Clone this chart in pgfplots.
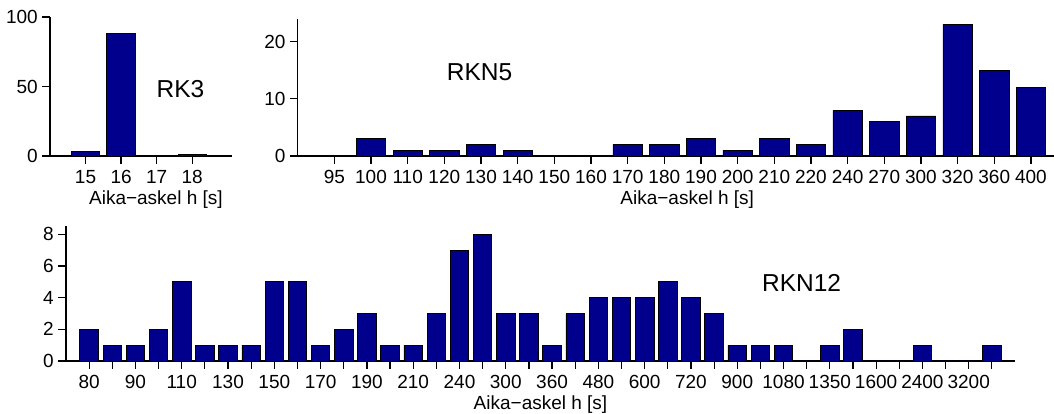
\documentclass[border=0pt]{standalone}
\usepackage{fontspec}
\setmainfont{Liberation Sans}
\usepackage{pgfplots}
\pgfplotsset{compat=1.18}
\definecolor{barblue}{RGB}{0,0,140}
\pgfplotsset{
  histo/.style={
    scale only axis,
    axis lines=left,
    axis line style={-, line width=1.2pt, black},
    tick align=outside,
    major tick length=8pt,
    tick style={line width=1.2pt, black},
    ymin=0,
    xtick=data,
    ybar,
    bar width=0.8,
    /pgf/number format/assume math mode=true,
    ticklabel style={font=\fontsize{19}{21}\selectfont, inner sep=0pt},
    yticklabel style={xshift=-4pt},
    xticklabel style={yshift=-6pt},
    label style={font=\fontsize{19}{21}\selectfont, inner sep=0pt},
    clip=false,
  },
  barstyle/.style={fill=barblue, draw=black, line width=0.8pt},
}
\begin{document}
\begin{tikzpicture}
\path[use as bounding box] (0,0) rectangle (1054pt,414pt);
% RK3
\begin{axis}[histo,
  at={(50pt,258pt)}, anchor=south west,
  width=182pt, height=139pt,
  xmin=-1, xmax=4.12, ymax=100,
  ytick={0,50,100},
  xticklabels={15,16,17,18},
  xlabel={Aika−askel h [s]},
  xlabel style={at={(axis description cs:0.582,0)}, anchor=north, yshift=-35pt},
]
\addplot[barstyle] coordinates {(0,3) (1,88) (2,0) (3,1)};
\node[font=\fontsize{24.5}{28}\selectfont] at (axis cs:2.67,47.8) {RK3};
\end{axis}
% RKN5
\begin{axis}[histo,
  at={(297.7pt,258pt)}, anchor=south west,
  width=756.3pt, height=137.2pt,
  xmin=-1, xmax=19.63, ymax=24,
  ytick={0,10,20},
  xticklabels={95,100,110,120,130,140,150,160,170,180,190,200,210,220,240,270,300,320,360,400},
  xlabel={Aika−askel h [s]},
  xlabel style={at={(axis description cs:0.515,0)}, anchor=north, yshift=-35pt},
]
\addplot[barstyle] coordinates {(0,0) (1,3) (2,1) (3,1) (4,2) (5,1) (6,0) (7,0) (8,2) (9,2) (10,3) (11,1) (12,3) (13,2) (14,8) (15,6) (16,7) (17,23) (18,15) (19,12)};
\node[font=\fontsize{24.5}{28}\selectfont] at (axis cs:3.96,14.66) {RKN5};
\end{axis}
% RKN12
\begin{axis}[histo,
  at={(66pt,53pt)}, anchor=south west,
  width=949pt, height=134.5pt,
  xmin=-1, xmax=40, ymax=8.5,
  ytick={0,2,4,6,8},
  xticklabels={80,{},90,{},110,{},130,{},150,{},170,{},190,{},210,{},240,{},300,{},360,{},480,{},600,{},720,{},900,{},1080,{},1350,{},1600,{},2400,{},3200,{}},
  xlabel={Aika−askel h [s]},
  xlabel style={at={(axis description cs:0.5,0)}, anchor=north, yshift=-35pt},
]
\addplot[barstyle] coordinates {(0,2) (1,1) (2,1) (3,2) (4,5) (5,1) (6,1) (7,1) (8,5) (9,5) (10,1) (11,2) (12,3) (13,1) (14,1) (15,3) (16,7) (17,8) (18,3) (19,3) (20,1) (21,3) (22,4) (23,4) (24,4) (25,5) (26,4) (27,3) (28,1) (29,1) (30,1) (31,0) (32,1) (33,2) (34,0) (35,0) (36,1) (37,0) (38,0) (39,1)};
\node[font=\fontsize{24.5}{28}\selectfont] at (axis cs:30.78,4.93) {RKN12};
\end{axis}
\end{tikzpicture}
\end{document}
